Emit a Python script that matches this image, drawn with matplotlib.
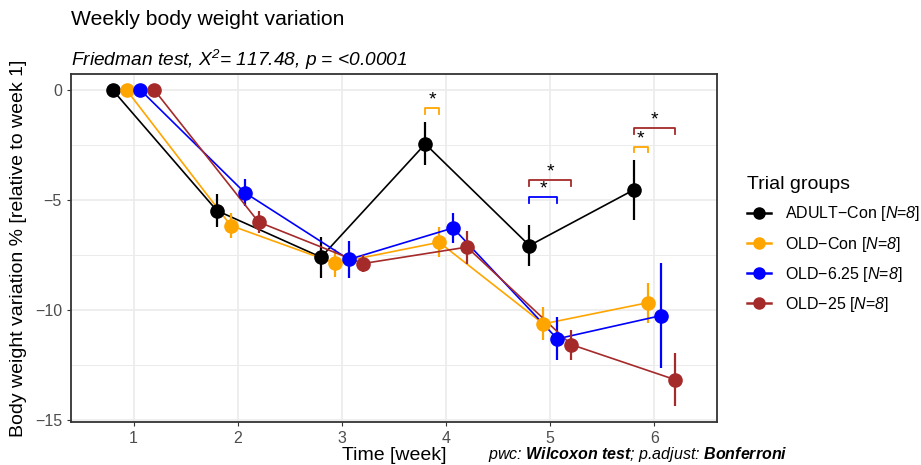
import matplotlib
matplotlib.use("Agg")
import matplotlib.pyplot as plt
from matplotlib.lines import Line2D

plt.rcParams['font.family'] = ['Liberation Sans', 'DejaVu Sans']
plt.rcParams['mathtext.fontset'] = 'custom'
plt.rcParams['mathtext.rm'] = 'Liberation Sans'
plt.rcParams['mathtext.it'] = 'Liberation Sans:italic'
plt.rcParams['mathtext.sf'] = 'Liberation Sans:italic'
plt.rcParams['mathtext.bf'] = 'Liberation Sans:italic:bold'

# Datos
semanas = [1, 2, 3, 4, 5, 6]
grupos = ["ADULT−Con", "OLD−Con", "OLD−6.25", "OLD−25"]
colores = ["black", "#FFA500", "#0000FF", "#A52A2A"]
n_grupo = [8, 8, 8, 8]

media_adult_con = [0, -5.48, -7.6, -2.45, -7.07, -4.54]
media_old_con = [0, -6.16, -7.87, -6.92, -10.63, -9.67]
media_old_625 = [0, -4.66, -7.7, -6.27, -11.31, -10.25]
media_old_25 = [0, -6.0, -7.89, -7.14, -11.57, -13.17]

err_adult_con = [0, 0.75, 0.93, 0.98, 0.95, 1.38]
err_old_con = [0, 0.55, 0.65, 0.68, 0.75, 0.9]
err_old_625 = [0, 0.6, 0.85, 0.68, 0.98, 2.4]
err_old_25 = [0, 0.5, 0.4, 0.75, 0.68, 1.2]

medias = [media_adult_con, media_old_con, media_old_625, media_old_25]
errores = [err_adult_con, err_old_con, err_old_625, err_old_25]

# Comparaciones significativas: (semana, grupo comparado, altura)
comp_semana = [4, 5, 5, 6, 6]
comp_grupo = [1, 2, 3, 1, 3]
comp_altura = [-0.83, -4.87, -4.11, -2.57, -1.72]

desplaz = [-0.2, -0.0667, 0.0667, 0.2]

fig = plt.figure(figsize=(9.21, 4.65), dpi=100)
ax = fig.add_axes([0.0771, 0.0925, 0.7014, 0.7484])

for i in range(len(grupos)):
    xs = [s + desplaz[i] for s in semanas]
    ax.plot(xs, medias[i], color=colores[i], lw=1.2, zorder=3)
    ax.errorbar(xs, medias[i], yerr=errores[i], fmt='none', ecolor=colores[i],
                elinewidth=1.6, capsize=0, zorder=3)
    ax.plot(xs, medias[i], 'o', color=colores[i], ms=9.5, zorder=4)

# Corchetes de significancia
for s, g, h in zip(comp_semana, comp_grupo, comp_altura):
    x0 = s + desplaz[0]
    x1 = s + desplaz[g]
    ax.plot([x0, x0, x1, x1], [h - 0.26, h, h, h - 0.26], color=colores[g], lw=1.3, zorder=3)
    ax.text((x0 + x1) / 2, h - 0.02, "*", ha='center', va='bottom', fontsize=14)

ax.set_xlim(0.4, 6.6)
ax.set_ylim(-15.09, 0.73)
ax.set_xticks(semanas)
ax.set_yticks([0, -5, -10, -15])
ax.set_yticks([-2.5, -7.5, -12.5], minor=True)
ax.grid(True, which='major', color='#EBEBEB', lw=1.2)
ax.grid(True, which='minor', axis='y', color='#EBEBEB', lw=0.7)
ax.set_axisbelow(True)
for sp in ax.spines.values():
    sp.set_color('#333333')
    sp.set_linewidth(1.3)
ax.tick_params(axis='both', which='major', colors='#333333', labelcolor='#4D4D4D',
               labelsize=11.5, length=3)
ax.tick_params(axis='both', which='minor', length=0)

ax.set_xlabel("Time [week]", fontsize=14, labelpad=1)
ax.set_ylabel("Body weight variation % [relative to week 1]", fontsize=14, labelpad=6)

fig.text(0.077, 0.957, "Weekly body weight variation", fontsize=15.2, va='center', ha='left')
fig.text(0.077, 0.871, r"Friedman test, X$^{\mathsf{2}}$= 117.48, p = <0.0001",
         fontsize=13.8, style='italic', va='center', ha='left')
fig.text(0.855, 0.022, r"pwc: $\mathbf{Wilcoxon\ test}$; p.adjust: $\mathbf{Bonferroni}$",
         fontsize=11.5, style='italic', va='center', ha='right')

handles = []
for i in range(len(grupos)):
    etiqueta = grupos[i] + r" [$\mathsf{N}$=$\mathsf{" + str(n_grupo[i]) + "}$]"
    handles.append(Line2D([0], [0], color=colores[i], lw=1.8, marker='o', ms=8, label=etiqueta))
leg = fig.legend(handles=handles, title="Trial groups", loc='upper left',
                 bbox_to_anchor=(0.795, 0.652), frameon=False, fontsize=11.5,
                 title_fontsize=14, handlelength=1.55, labelspacing=0.7,
                 handletextpad=0.85)
leg._legend_box.align = 'left'

fig.savefig("out.png", dpi=100)
